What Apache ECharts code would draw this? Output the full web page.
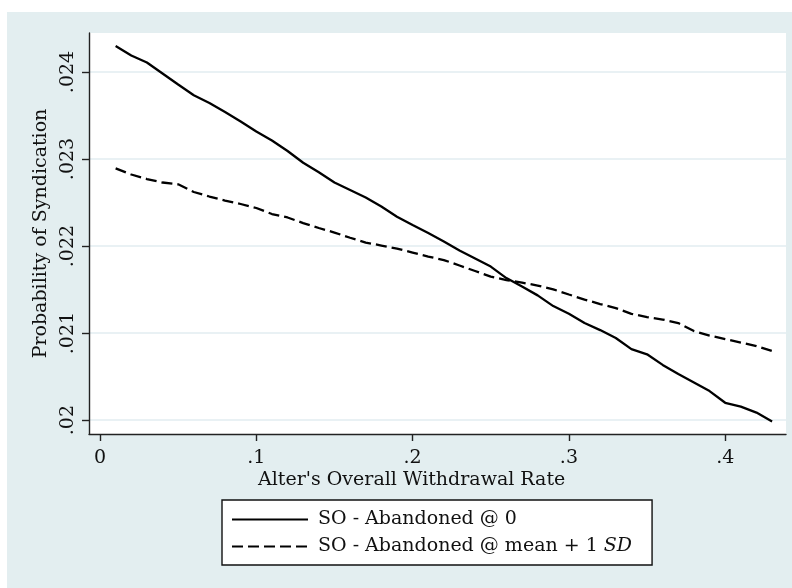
<!DOCTYPE html>
<html><head><meta charset="utf-8">
<script src="https://cdn.jsdelivr.net/npm/echarts@6/dist/echarts.min.js"></script>
<style>html,body{margin:0;padding:0;background:#fff}#c{width:792px;height:588px}</style>
</head><body><div id="c"></div>
<script>
const xValues = [0.01,0.02,0.03,0.04,0.05,0.06,0.07,0.08,0.09,0.10,
  0.11,0.12,0.13,0.14,0.15,0.16,0.17,0.18,0.19,0.20,
  0.21,0.22,0.23,0.24,0.25,0.26,0.27,0.28,0.29,0.30,
  0.31,0.32,0.33,0.34,0.35,0.36,0.37,0.38,0.39,0.40,
  0.41,0.42,0.43];
const soAbandonedZero = [0.024299,0.024190,0.024109,0.023983,0.023856,0.023733,0.023644,0.023540,0.023431,0.023316,
  0.023213,0.023092,0.022957,0.022847,0.022730,0.022644,0.022557,0.022454,0.022337,0.022241,
  0.022149,0.022052,0.021948,0.021856,0.021764,0.021632,0.021534,0.021433,0.021310,0.021221,
  0.021115,0.021034,0.020943,0.020816,0.020756,0.020634,0.020529,0.020431,0.020333,0.020199,
  0.020155,0.020086,0.019983];
const soAbandonedMeanSD = [0.022893,0.022822,0.022770,0.022730,0.022709,0.022621,0.022569,0.022523,0.022483,0.022437,
  0.022368,0.022328,0.022264,0.022207,0.022155,0.022095,0.022040,0.022006,0.021971,0.021925,
  0.021879,0.021839,0.021776,0.021713,0.021649,0.021609,0.021580,0.021546,0.021502,0.021443,
  0.021385,0.021333,0.021287,0.021221,0.021184,0.021155,0.021115,0.021023,0.020971,0.020931,
  0.020891,0.020851,0.020793];
const xTicks = [0, 0.1, 0.2, 0.3, 0.4];
const yTicks = [0.020, 0.021, 0.022, 0.023, 0.024];
const seriesNames = ['SO - Abandoned @ 0', 'SO - Abandoned @ mean + 1 SD'];

const FONT = '"DejaVu Serif", serif';
const FS = 19;
const fmt = v => String(+Number(v).toFixed(4)).replace(/^0\./, '.').replace(/^-0\./, '-.');
const pairs = ys => xValues.map((x, i) => [x, ys[i]]);

const chart = echarts.init(document.getElementById('c'), null, {renderer: 'canvas'});
chart.setOption({
  backgroundColor: '#ffffff',
  animation: false,
  graphic: [
    {type: 'rect', z: -10, silent: true, shape: {x: 7, y: 12, width: 785, height: 576}, style: {fill: '#e3eef0'}},
    {type: 'text', left: 258, top: 471, style: {text: "Alter's Overall Withdrawal Rate", font: FS + 'px ' + FONT, fill: '#111'}}
  ],
  grid: {left: 89, right: 6, top: 33, bottom: 154, show: true, backgroundColor: '#ffffff', borderWidth: 0},
  xAxis: {
    type: 'value', min: -0.00704, max: 0.4389,
    axisLine: {onZero: false, lineStyle: {color: '#222', width: 1.4}},
    axisTick: {show: true, length: 7, customValues: xTicks, lineStyle: {color: '#222', width: 1.4}},
    axisLabel: {customValues: xTicks, formatter: fmt, margin: 15, fontFamily: FONT, fontSize: FS, color: '#111'},
    splitLine: {show: false}
  },
  yAxis: {
    type: 'value', min: 0.01984, max: 0.024448,
    name: 'Probability of Syndication', nameLocation: 'middle', nameGap: 38,
    nameTextStyle: {fontFamily: FONT, fontSize: FS, color: '#111'},
    axisLine: {show: true, onZero: false, lineStyle: {color: '#222', width: 1.4}},
    axisTick: {show: true, length: 7, customValues: yTicks, lineStyle: {color: '#222', width: 1.4}},
    axisLabel: {customValues: yTicks, formatter: fmt, rotate: 90, margin: 11, fontFamily: FONT, fontSize: FS, color: '#111'},
    splitLine: {show: true, lineStyle: {color: '#e2edf0', width: 1.6}}
  },
  legend: {
    orient: 'vertical', left: 222, top: 500,
    padding: [10, 20, 9, 9], itemGap: 8, itemWidth: 76, itemHeight: 16,
    borderColor: '#111', borderWidth: 1.4, backgroundColor: '#ffffff',
    data: seriesNames,
    itemStyle: {opacity: 0, color: 'rgba(0,0,0,0)', borderWidth: 0},
    formatter: n => n === seriesNames[1] ? '{a|SO - Abandoned @ mean + 1 }{i|SD}' : '{a|' + n + '}',
    textStyle: {padding: [0, 0, 0, 5], rich: {
      a: {fontFamily: FONT, fontSize: FS, color: '#111', lineHeight: 20},
      i: {fontFamily: FONT, fontSize: FS, fontStyle: 'italic', color: '#111', lineHeight: 20}
    }}
  },
  series: [
    {name: seriesNames[0], type: 'line', data: pairs(soAbandonedZero), symbol: 'none', smooth: false,
     lineStyle: {color: '#000', width: 2.3, type: 'solid'}, itemStyle: {color: '#000'}},
    {name: seriesNames[1], type: 'line', data: pairs(soAbandonedMeanSD), symbol: 'none', smooth: false,
     lineStyle: {color: '#000', width: 2.3, type: [11, 5]}, itemStyle: {color: '#000'}}
  ]
});
</script></body></html>
